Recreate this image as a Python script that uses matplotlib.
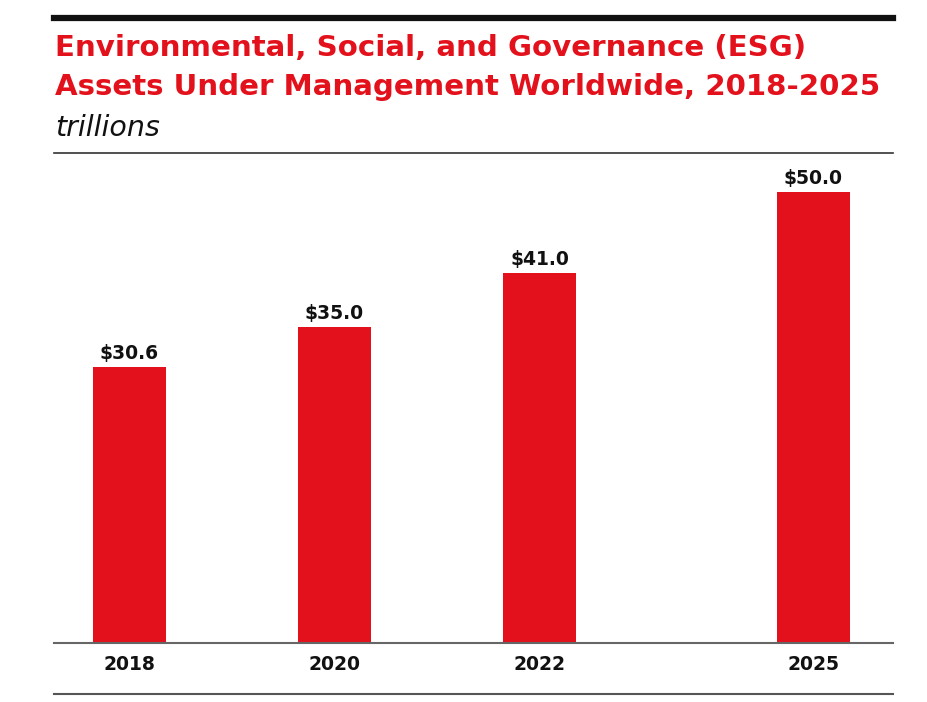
import matplotlib
matplotlib.use("Agg")
import matplotlib.pyplot as plt
from matplotlib.lines import Line2D

years = ["2018", "2020", "2022", "2025"]
values = [30.6, 35.0, 41.0, 50.0]
value_labels = ["$30.6", "$35.0", "$41.0", "$50.0"]
title_lines = ["Environmental, Social, and Governance (ESG)",
               "Assets Under Management Worldwide, 2018-2025"]
subtitle = "trillions"

RED = "#E3111B"
FONT = "DejaVu Sans"

fig = plt.figure(figsize=(9.28, 7.02), dpi=100)
ax = fig.add_axes([54/928, 1-643/702, (893-54)/928, (643-153)/702])

positions = [0, 1, 2, 3.335]
ax.bar(positions, values, width=0.356, color=RED, zorder=2)
for x, v, lab in zip(positions, values, value_labels):
    ax.annotate(lab, (x, v), xytext=(0, 3), textcoords="offset points",
                ha="center", va="bottom", fontsize=13.5, fontweight="bold",
                family=FONT, color="#111111")

ax.set_xlim(-0.368, 3.724)
ax.set_ylim(0, 54.3)
ax.set_xticks(positions)
ax.set_xticklabels(years, fontsize=13.5, fontweight="bold", family=FONT, color="#111111")
ax.tick_params(axis="x", length=0, pad=9)
ax.set_yticks([])
for s in ["left", "right"]:
    ax.spines[s].set_visible(False)
ax.spines["top"].set_color("#333333")
ax.spines["top"].set_linewidth(1.2)
ax.spines["bottom"].set_color("#666666")
ax.spines["bottom"].set_linewidth(1.5)

# decorative rules
fig.add_artist(Line2D([54/928, 893/928], [1-17.5/702]*2, color="#111111", lw=4.5))
fig.add_artist(Line2D([54/928, 893/928], [1-694/702]*2, color="#555555", lw=1.5))

t1 = fig.text(55/928, 1-56/702, title_lines[0], fontsize=19, fontweight="bold",
              color=RED, family=FONT, va="baseline")
t2 = fig.text(55/928, 1-95/702, title_lines[1], fontsize=19, fontweight="bold",
              color=RED, family=FONT, va="baseline")
fig.text(55/928, 1-136/702, subtitle, fontsize=20.5, style="italic",
         color="#111111", family=FONT, va="baseline")

# fit title width to the reference span
fig.canvas.draw()
r = fig.canvas.get_renderer()
w = t2.get_window_extent(r).width
fs = 19 * 825 / w
t1.set_fontsize(fs)
t2.set_fontsize(fs)

fig.savefig("out.png", dpi=100)
